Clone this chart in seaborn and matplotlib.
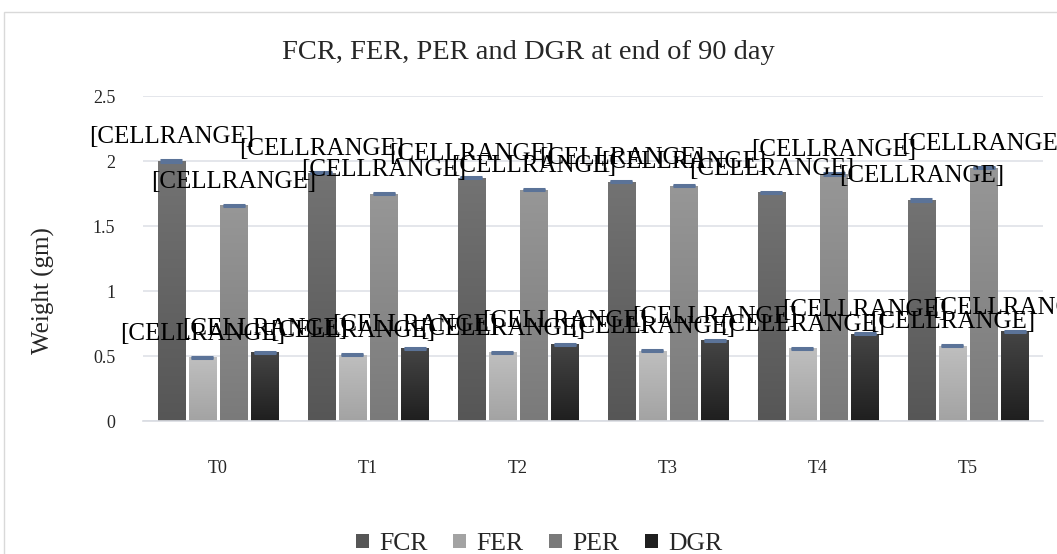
import numpy as np
import pandas as pd
import matplotlib
matplotlib.use('Agg')
import matplotlib.pyplot as plt
import seaborn as sns
from matplotlib.colors import LinearSegmentedColormap
from matplotlib.patches import Patch, Rectangle

# values
groups = ['T0', 'T1', 'T2', 'T3', 'T4', 'T5']
metrics = ['FCR', 'FER', 'PER', 'DGR']
fcr = [2.00, 1.91, 1.87, 1.84, 1.76, 1.70]
fer = [0.49, 0.51, 0.53, 0.54, 0.56, 0.58]
per = [1.66, 1.75, 1.78, 1.81, 1.90, 1.95]
dgr = [0.53, 0.56, 0.59, 0.62, 0.67, 0.69]
err = 0.004
label_text = '[CELLRANGE]'

# gradient (bottom, top) per series, like Excel's shaded fills
shades = {
    'FCR': ('#565656', '#737373'),
    'FER': ('#a3a3a3', '#bfbfbf'),
    'PER': ('#7a7a7a', '#979797'),
    'DGR': ('#1f1f1f', '#454545'),
}

df = pd.DataFrame({
    'group': groups * 4,
    'metric': np.repeat(metrics, len(groups)),
    'value': fcr + fer + per + dgr,
})

sns.set_style('white')
plt.rcParams['font.family'] = ['Liberation Serif', 'DejaVu Serif']

fig = plt.figure(figsize=(10.57, 5.54), dpi=100)
ax = fig.add_axes([0.1353, 0.240, 0.8515, 0.5867])

palette = {m: shades[m][0] for m in metrics}
sns.barplot(data=df, x='group', y='value', hue='metric', hue_order=metrics,
            order=groups, palette=palette, width=0.83, gap=0.13,
            errorbar=None, legend=False, ax=ax)

grad = np.linspace(0, 1, 256).reshape(-1, 1)
for cont, m in zip(ax.containers, metrics):
    cmap = LinearSegmentedColormap.from_list(m, list(shades[m]))
    for bar in cont:
        x0, w, h = bar.get_x(), bar.get_width(), bar.get_height()
        im = ax.imshow(grad, extent=[x0, x0 + w, 0, h], origin='lower',
                       aspect='auto', cmap=cmap, zorder=2)
        im.set_clip_path(bar)
        bar.set_facecolor('none')
        bar.set_edgecolor('none')
        xc = x0 + w / 2
        ax.errorbar(xc, h, yerr=err, fmt='none', ecolor='#5b7398',
                    capsize=8, capthick=2.2, elinewidth=0, zorder=4)
        ax.annotate(label_text, (xc, h), xytext=(0, 17),
                    textcoords='offset points', ha='center', va='center',
                    fontsize=18, color='black', zorder=5)

ax.set_xlim(-0.5, len(groups) - 0.5)
ax.set_ylim(0, 2.5)
ax.set_yticks(np.arange(0, 2.51, 0.5))
ax.set_yticklabels(['0', '0.5', '1', '1.5', '2', '2.5'])
ax.yaxis.grid(True, color='#dfe2e8', linewidth=1.2)
ax.set_axisbelow(True)
for s in ['top', 'right', 'left']:
    ax.spines[s].set_visible(False)
ax.spines['bottom'].set_color('#d9dce2')
ax.spines['bottom'].set_linewidth(1.2)
ax.tick_params(axis='x', length=0, pad=28, labelsize=13)
ax.tick_params(axis='y', length=0, pad=20, labelsize=13)
ax.set_xlabel('')
ax.set_ylabel('Weight (gm)', fontsize=18)
ax.yaxis.set_label_coords(-0.098, 0.40)

fig.text(0.5, 0.905, 'FCR, FER, PER and DGR at end of 90 day',
         ha='center', va='center', fontsize=20.5)

handles = [Patch(facecolor=shades[m][0], edgecolor='none', label=m) for m in metrics]
fig.legend(handles=handles, loc='center', bbox_to_anchor=(0.51, 0.018),
           ncol=4, frameon=False, fontsize=18.5, handlelength=0.5,
           handleheight=0.5, handletextpad=0.4, columnspacing=1.0)

fig.patches.append(Rectangle((0.004, -0.1), 1.2, 1.078, transform=fig.transFigure,
                             facecolor='none', edgecolor='#d9d9d9', linewidth=1))

fig.savefig('out.png', dpi=100)
